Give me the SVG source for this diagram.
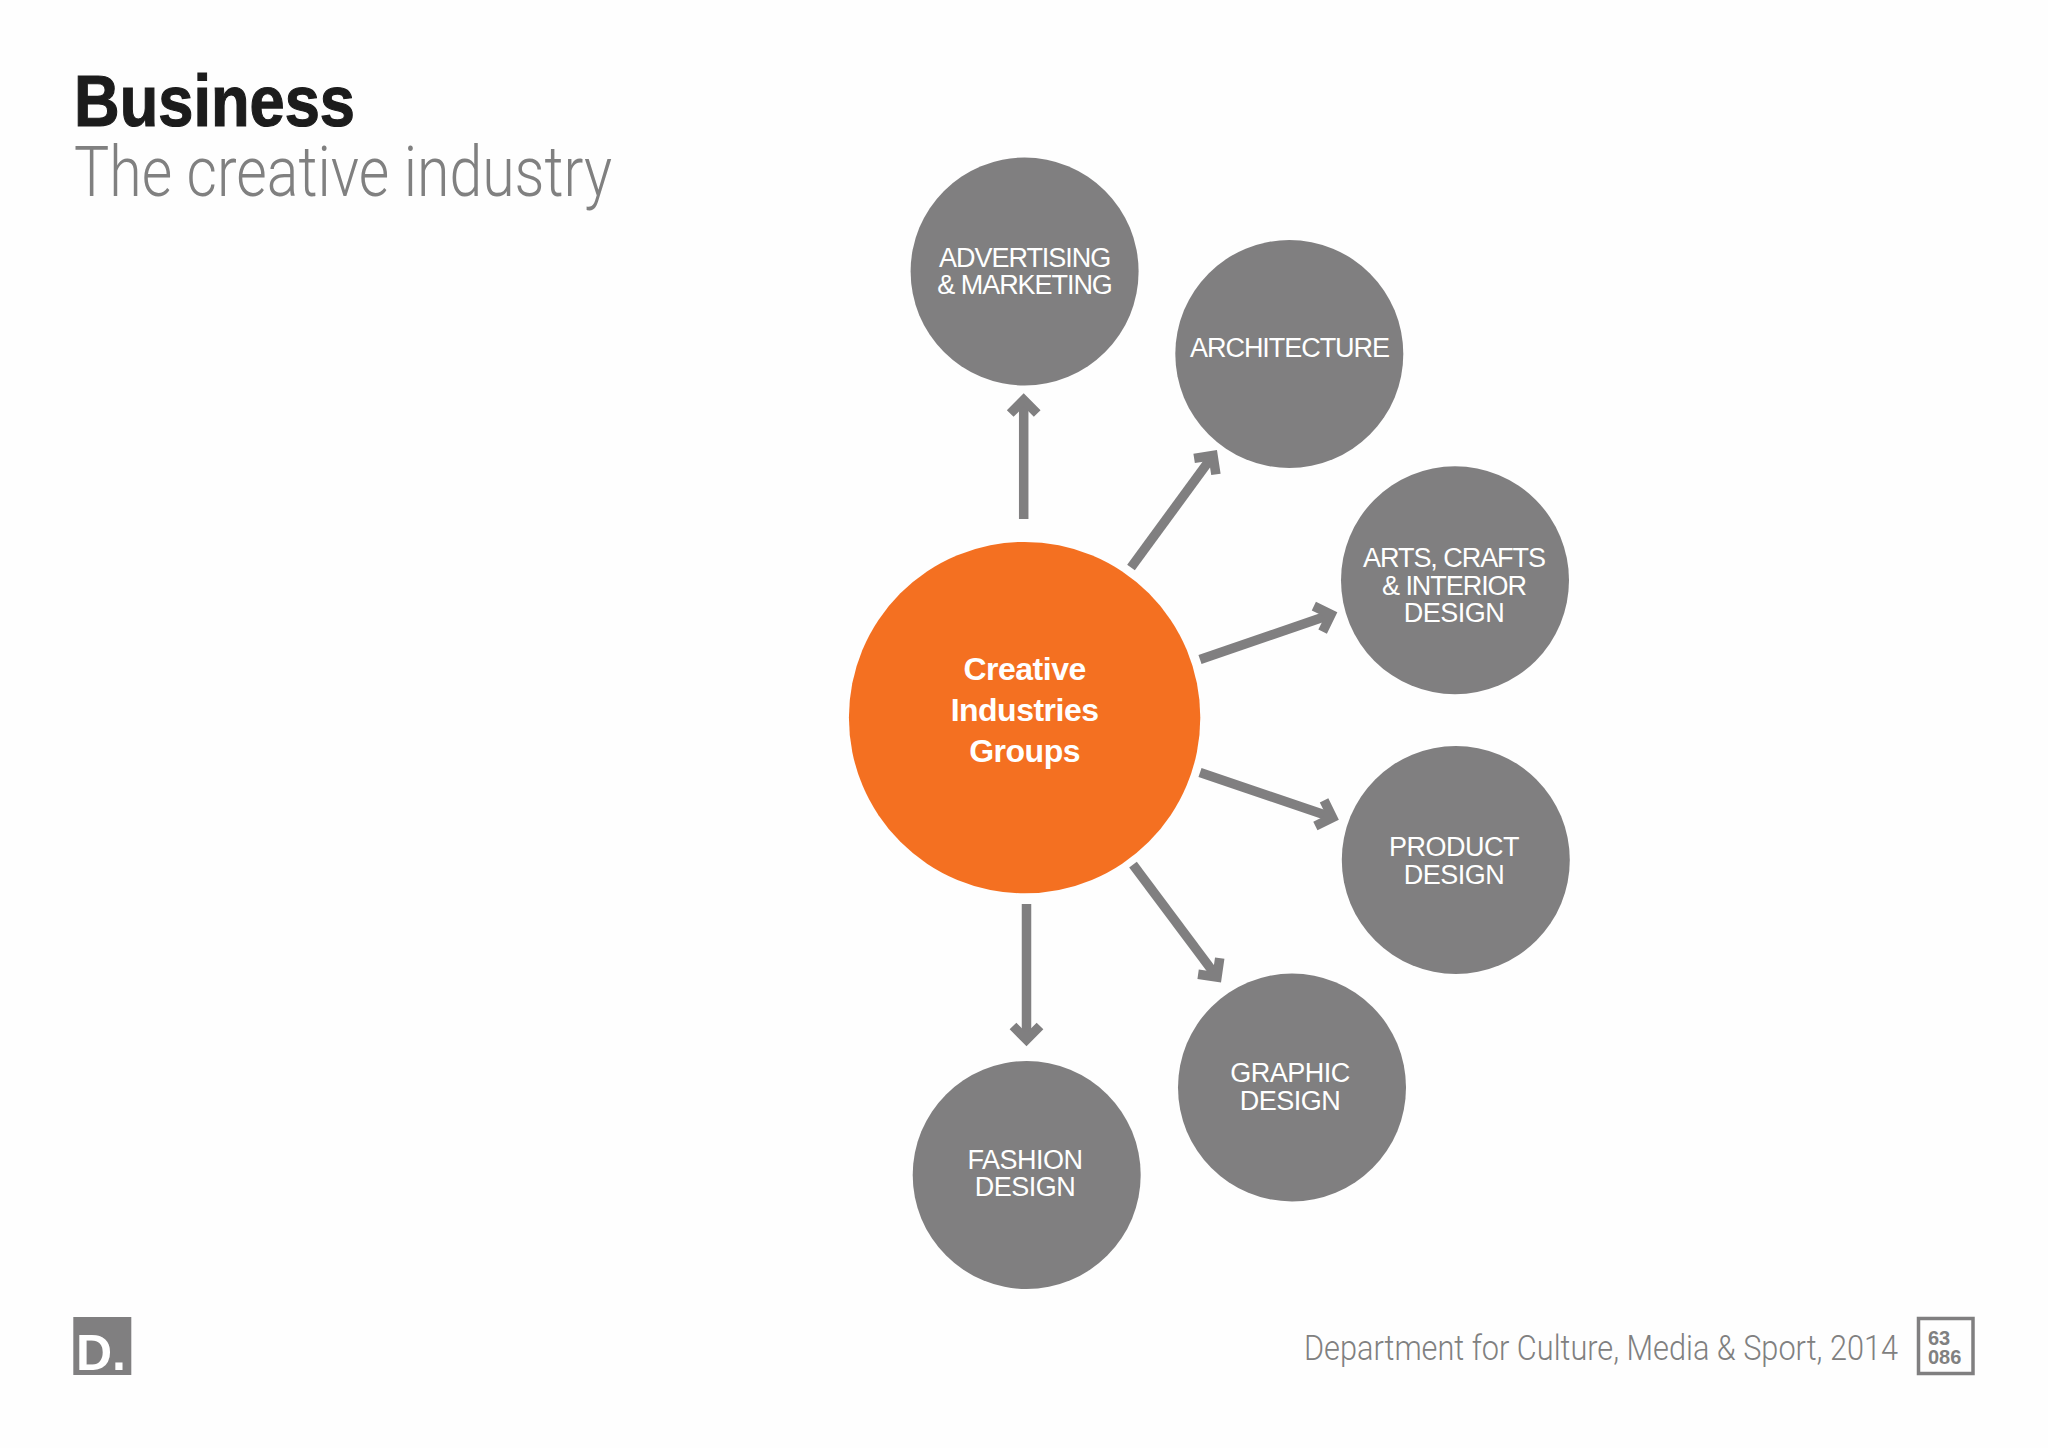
<svg xmlns="http://www.w3.org/2000/svg" width="2048" height="1448" viewBox="0 0 2048 1448">
<style>
text{font-family:"Liberation Sans",Arial,sans-serif}
.c{fill:#807f80}
.l{fill:#fff;font-size:27px;text-anchor:middle;letter-spacing:-1.05px}
.s{letter-spacing:-.5px}
.o{fill:#fff;font-size:32px;font-weight:700;text-anchor:middle;letter-spacing:-.5px}
.a{fill:none;stroke:#807f80;stroke-width:9.5;marker-end:url(#h)}
.t{font-family:Roboto,"Liberation Sans",sans-serif;font-weight:300;fill:#808080}
.n{font-weight:700;fill:#808080;font-size:20px}
</style>
<defs><marker id="h" markerUnits="userSpaceOnUse" orient="auto" markerWidth="40" markerHeight="40" refX="20" refY="20" viewBox="0 0 40 40"><path d="M6.5 6.5L20 20L6.5 33.5" fill="none" stroke="#807f80" stroke-width="9.5" stroke-miterlimit="8"/></marker></defs>
<rect width="2048" height="1448" fill="#fefefe"/>
<g id="title">
<text x="74" y="126" fill="#1c1c1c" stroke="#1c1c1c" stroke-width="1.2" textLength="281" lengthAdjust="spacingAndGlyphs" font-weight="700" style="font-size:73px">Business</text>
<text class="t" x="74" y="196" textLength="538" lengthAdjust="spacingAndGlyphs" style="font-size:70px">The creative industry</text>
</g>
<g id="connectors">
<line class="a" x1="1023.7" y1="519" x2="1023.7" y2="400"/>
<line class="a" x1="1131" y1="567.5" x2="1213" y2="455.5"/>
<line class="a" x1="1200" y1="659.5" x2="1331" y2="614.5"/>
<line class="a" x1="1200" y1="772.5" x2="1332.5" y2="817.5"/>
<line class="a" x1="1133" y1="864.6" x2="1217" y2="977"/>
<line class="a" x1="1026.5" y1="904" x2="1026.5" y2="1039.5"/>
</g>
<g id="center"><circle cx="1024.6" cy="717.6" r="175.7" fill="#f47021"/>
<text class="o" x="1024.6" y="680">Creative</text><text class="o" x="1024.6" y="721">Industries</text><text class="o" x="1024.6" y="762">Groups</text></g>
<g id="advertising"><circle class="c" cx="1024.6" cy="271.5" r="114"/><text class="l" x="1024.6" y="267">ADVERTISING</text><text class="l" x="1024.6" y="294">&amp; MARKETING</text></g>
<g id="architecture"><circle class="c" cx="1289.3" cy="354" r="114"/><text class="l" x="1289.5" y="357">ARCHITECTURE</text></g>
<g id="arts"><circle class="c" cx="1455" cy="580.3" r="114"/><text class="l" x="1454" y="567">ARTS, CRAFTS</text><text class="l" x="1454" y="595">&amp; INTERIOR</text><text class="l s" x="1454" y="622">DESIGN</text></g>
<g id="product"><circle class="c" cx="1455.8" cy="860" r="114"/><text class="l s" x="1454" y="856">PRODUCT</text><text class="l s" x="1454" y="884">DESIGN</text></g>
<g id="graphic"><circle class="c" cx="1292" cy="1087.5" r="114"/><text class="l s" x="1290" y="1082">GRAPHIC</text><text class="l s" x="1290" y="1110">DESIGN</text></g>
<g id="fashion"><circle class="c" cx="1026.7" cy="1175" r="114"/><text class="l s" x="1025" y="1169">FASHION</text><text class="l s" x="1025" y="1196">DESIGN</text></g>
<g id="logo"><rect class="c" x="73.3" y="1317" width="58" height="58"/><text x="76" y="1370" fill="#fff" font-weight="700" style="font-size:50px">D.</text></g>
<g id="footer">
<text class="t" x="1304" y="1360" textLength="594" lengthAdjust="spacingAndGlyphs" style="font-size:35px">Department for Culture, Media &amp; Sport, 2014</text>
<rect x="1918.5" y="1318.5" width="54.5" height="55" fill="none" stroke="#807f80" stroke-width="3.5"/>
<text class="n" x="1928" y="1345">63</text>
<text class="n" x="1928" y="1364">086</text>
</g>
</svg>
